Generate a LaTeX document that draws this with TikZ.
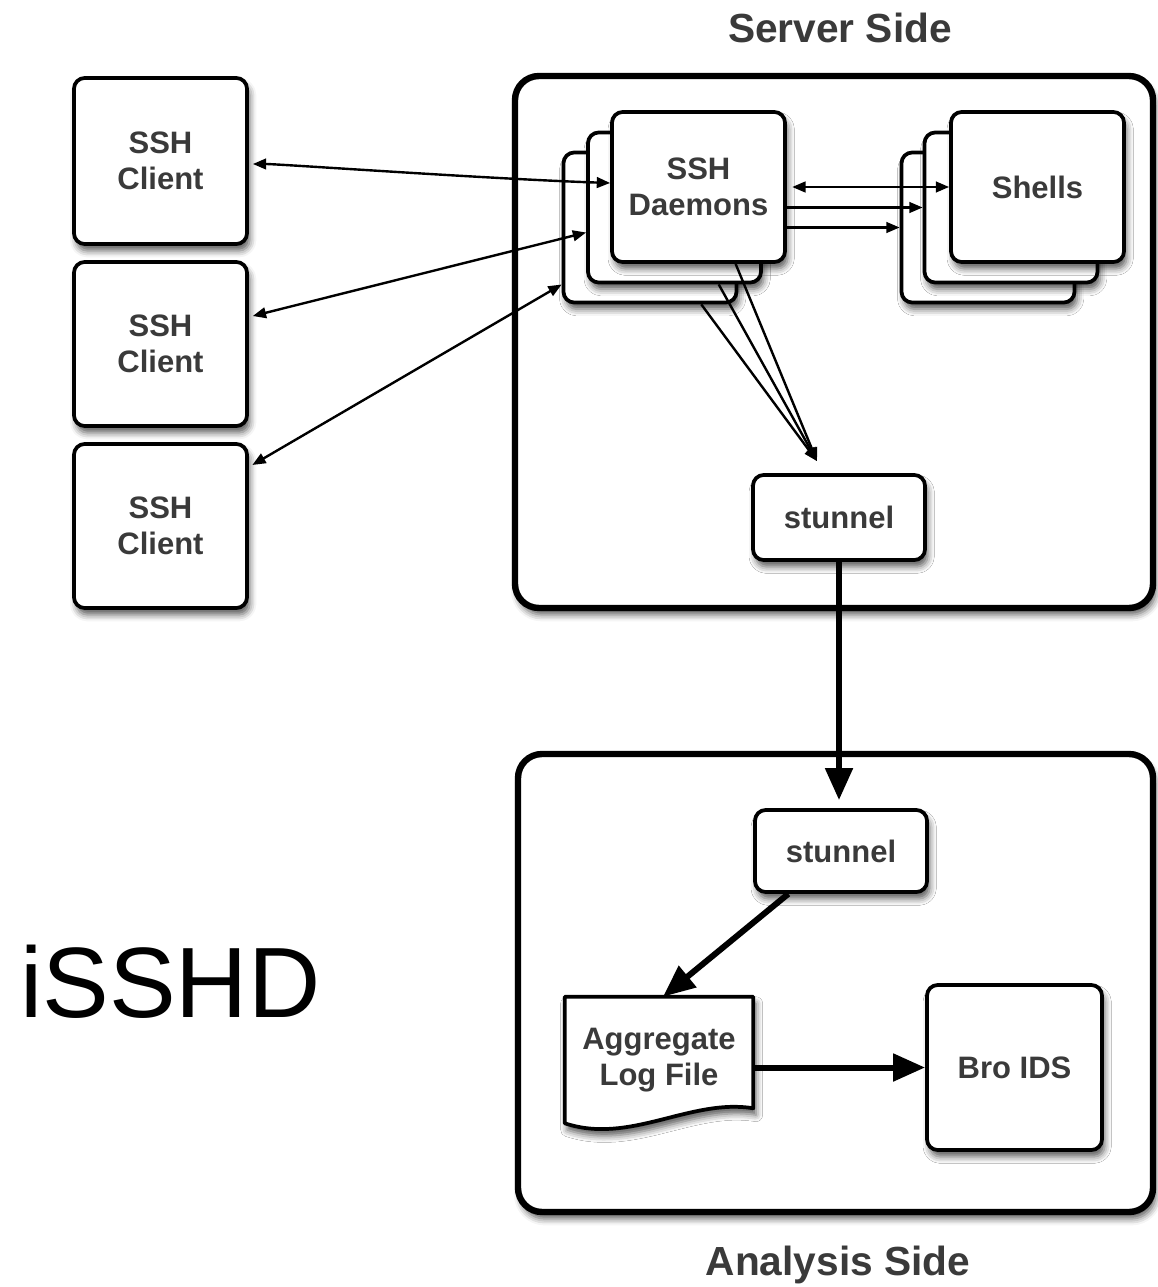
\documentclass[tikz,border=0pt]{standalone}
\usepackage{fontspec}
\setmainfont{Liberation Sans}
\usetikzlibrary{arrows.meta,shadows.blur,calc}
\definecolor{labelgray}{HTML}{3A3A3A}

\begin{document}
\begin{tikzpicture}[x=0.75pt,y=-0.75pt,
  wh/.style 2 args={minimum width=#1*0.75pt,minimum height=#2*0.75pt},
  shade/.style={blur shadow={shadow xshift=2pt,shadow yshift=-5pt,
      shadow blur radius=5pt,shadow opacity=65}},
  lbl/.style={font=\bfseries\fontsize{23.25}{27}\selectfont,text=labelgray,
      align=center,inner sep=0pt},
  box/.style={lbl,draw=black,fill=white,line width=2.8pt,rounded corners=8pt,shade},
  side/.style={draw=black,fill=white,line width=4.8pt,rounded corners=18pt,
      shade,inner sep=0pt},
  caption/.style={font=\bfseries\fontsize{30.5}{36}\selectfont,text=labelgray,
      anchor=base,inner sep=0pt},
  smalltip/.tip={Triangle[length=10pt,width=8pt,fill=black]},
  bigtip/.tip={Triangle[length=24pt,width=20pt,fill=black,line join=miter]},
  thinline/.style={line width=1.8pt},
  link/.style={thinline,-smalltip},
  dlink/.style={thinline,smalltip-smalltip},
  flow/.style={line width=4.5pt,-bigtip}]

\useasboundingbox (0,0) rectangle (1157,1287);

% captions and title
\node[caption] (servercap) at (840,43) {Server Side};
\node[caption] (analysiscap) at (838,1275) {Analysis Side};
\node[font=\fontsize{75}{90}\selectfont,anchor=base west,inner sep=0pt] (title)
  at (20,1017) {iSSHD};

% the two sides
\node[side,wh={638}{532}] (server) at (834,342) {};
\node[side,wh={635}{458}] (analysis) at (835.5,983) {};

% clients
\node[box,wh={173}{166}] (c1) at (160.5,161) {SSH\\Client};
\node[box,wh={173}{164}] (c2) at (160.5,344) {SSH\\Client};
\node[box,wh={173}{164}] (c3) at (160.5,526) {SSH\\Client};

% stacked daemons
\node[box,wh={173}{150}] (d3) at (650,227.5) {};
\node[box,wh={173}{150}] (d2) at (674.5,207.5) {};
\node[box,wh={173}{150}] (d1) at (698.5,187) {SSH\\Daemons};

% stacked shells
\node[box,wh={173}{150}] (s3) at (988,227.5) {};
\node[box,wh={173}{150}] (s2) at (1011,207.5) {};
\node[box,wh={173}{150}] (s1) at (1037.5,187) {Shells};

% stunnel ends, log file and IDS
\node[box,wh={172}{85}] (st1) at (839,517.5) {stunnel};
\node[box,wh={172}{82}] (st2) at (841,851) {stunnel};
\node[box,wh={175}{165}] (bro) at (1014.5,1067.5) {Bro IDS};

\path node[wh={188}{126},inner sep=0pt] (log) at (659,1060) {};
\draw[line width=2.8pt,fill=white,shade,line join=round]
  ($(log.south east)+(0,-15)$) -- (log.north east) -- (log.north west)
  -- (log.south west) .. controls (630,1145) and (690,1098) .. ($(log.south east)+(0,-15)$)
  -- cycle;
\node[lbl] (logtext) at (log.center) {Aggregate\\Log File};

% client connections
\draw[dlink,shorten <=3pt] ($(c1.east)+(0,3)$) .. controls +(30,0) and +(-120,-4) .. ($(d1.west)+(0,-4)$);
\draw[dlink,shorten <=3pt] ($(c2.east)+(0,-27)$) -- ($(d2.west)+(0,25)$);
\draw[dlink,shorten <=3pt] ($(c3.east)+(0,-59)$) -- ($(d3.west)+(0,57)$);

% daemons to shells
\draw[dlink,shorten <=4pt] (d1.east) -- (s1.west);
\draw[link] (d1.east |- s2.west) -- (s2.west);
\draw[link] (d1.east |- s3.west) -- (s3.west);

% daemons to stunnel
\coordinate (fan) at ($(st1.north)+(-22,-12)$);
\draw[link] ($(d1.south west)!0.71!(d1.south east)$) -- (fan);
\draw[link] ($(d2.south west)!0.75!(d2.south east)$) -- (fan);
\draw[link] ($(d3.south west)!0.79!(d3.south east)$) -- (fan);

% analysis pipeline
\draw[flow,shorten >=6pt] (st1.south) -- (st1.south |- st2.north);
\draw[flow] ($(st2.south west)!0.2!(st2.south east)$) -- ($(log.north)+(4,0)$);
\draw[flow] (log.east |- bro.west) -- (bro.west);

\end{tikzpicture}
\end{document}
